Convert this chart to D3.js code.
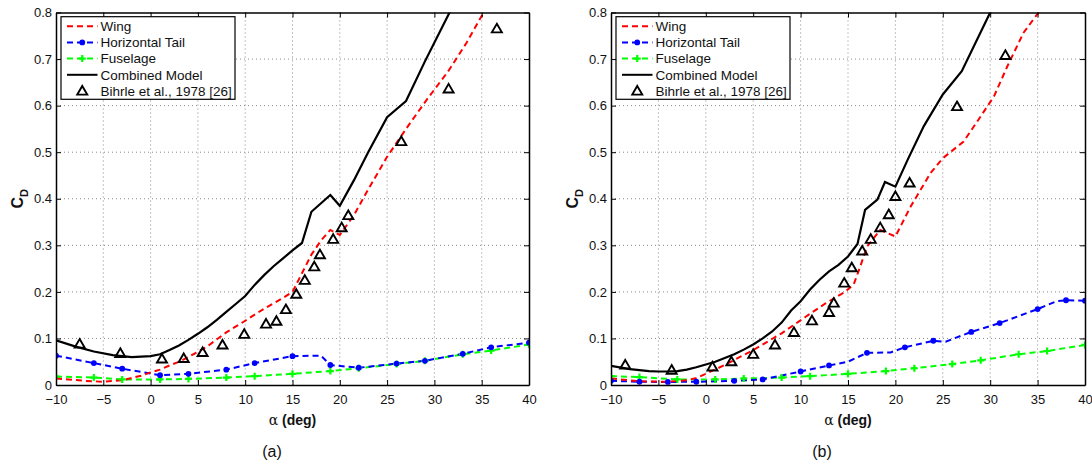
<!DOCTYPE html>
<html><head><meta charset="utf-8">
<script src="https://cdn.jsdelivr.net/npm/d3@7"></script>
<style>body{margin:0;background:#fff} text{font-family:"Liberation Sans",Arial,sans-serif;}</style>
</head><body><svg id="c" width="1092" height="464"></svg>
<script>
const xTicks=[-10,-5,0,5,10,15,20,25,30,35,40];
const yTicks=[0,0.1,0.2,0.3,0.4,0.5,0.6,0.7,0.8];
const legendLabels=["Wing","Horizontal Tail","Fuselage","Combined Model","Bihrle et al., 1978 [26]"];
const captions=["(a)","(b)"];

// Panel (a)
const combinedA=[[-10,0.096],[-8,0.083],[-6,0.072],[-4,0.064],[-2,0.060],[0,0.062],[1,0.066],[2,0.075],[3,0.085],[4,0.097],[5,0.11],[6,0.124],[7,0.14],[8,0.157],[9,0.174],[10,0.191],[11,0.215],[12,0.236],[13,0.255],[14,0.272],[15,0.289],[16,0.305],[17,0.372],[19,0.408],[20,0.385],[21.5,0.44],[23,0.50],[25,0.575],[27,0.61],[29,0.695],[31.6,0.80],[33,0.86]];
const wingA=[[-10,0.014],[-7,0.009],[-5,0.007],[-3,0.010],[-1,0.02],[0,0.027],[1,0.033],[2,0.042],[3,0.05],[4,0.06],[6,0.083],[8,0.113],[10,0.138],[12,0.164],[14,0.187],[15,0.2],[16,0.24],[17,0.28],[18,0.31],[19,0.333],[20,0.322],[21.5,0.365],[23,0.42],[25,0.49],[27,0.55],[29.2,0.613],[31.5,0.675],[33.4,0.735],[35.2,0.8],[36.5,0.84]];
const tailA=[[-10,0.063,1],[-6,0.047,1],[-3,0.035,1],[1,0.021,1],[4,0.024,1],[8,0.033,1],[11,0.047,1],[15,0.062,1],[18,0.063,0],[19,0.043,1],[22,0.037,1],[26,0.046,1],[29,0.052,1],[33,0.067,1],[36,0.081,1],[40,0.091,1]];
const fuselageA=[[-10,0.018],[-6,0.016],[-3,0.012],[1,0.012],[4,0.013],[8,0.016],[11,0.019],[15,0.024],[19,0.030],[22,0.036],[26,0.045],[29,0.052],[33,0.066],[36,0.074],[40,0.087]];
const bihrleA=[[-7.5,0.088],[-3.2,0.068],[1.2,0.056],[3.5,0.057],[5.5,0.07],[7.6,0.086],[9.9,0.109],[12.2,0.131],[13.3,0.137],[14.3,0.162],[15.4,0.195],[16.3,0.225],[17.3,0.254],[17.9,0.28],[19.3,0.313],[20.2,0.338],[20.9,0.364],[26.5,0.523],[31.5,0.636],[36.6,0.765]];

// Panel (b)
const combinedB=[[-10,0.041],[-8,0.034],[-6,0.030],[-5,0.029],[-4,0.029],[-3,0.030],[-2,0.033],[-1,0.038],[0,0.044],[1,0.05],[2,0.058],[3,0.066],[4,0.076],[5,0.087],[6,0.1],[7,0.115],[8,0.134],[9,0.16],[10,0.18],[11,0.205],[12,0.226],[13,0.244],[14,0.258],[15,0.276],[16,0.303],[16.8,0.376],[18.1,0.398],[18.9,0.436],[20,0.426],[21.3,0.484],[23,0.556],[25,0.624],[27,0.674],[30,0.8],[31,0.84]];
const wingB=[[-10,0.014],[-7,0.008],[-4,0.007],[-2,0.01],[-1,0.015],[0,0.024],[2,0.043],[5,0.075],[8,0.111],[10.5,0.146],[12.6,0.175],[14.7,0.2],[15.6,0.216],[16.3,0.255],[17,0.297],[18.4,0.333],[20,0.319],[21.6,0.383],[23.7,0.455],[25,0.487],[27.2,0.523],[29,0.577],[30.4,0.62],[31.8,0.684],[33.5,0.756],[35.1,0.8],[36,0.83]];
const tailB=[[-10,0.009,1],[-7,0.007,1],[-4,0.0065,1],[-1,0.007,1],[3,0.009,1],[6,0.012,1],[10,0.029,1],[13,0.042,1],[15,0.05,0],[17,0.069,1],[19.5,0.07,0],[21,0.081,1],[24,0.095,1],[25.3,0.093,0],[28,0.114,1],[31,0.133,1],[35,0.163,1],[37,0.18,0],[38,0.182,1],[40,0.181,1]];
const fuselageB=[[-10,0.019],[-7,0.017],[-3,0.012],[1,0.012],[4,0.014],[8,0.016],[11,0.019],[15,0.024],[19,0.030],[22,0.036],[26,0.045],[29,0.053],[33,0.066],[36,0.073],[40,0.086]];
const bihrleB=[[-8.5,0.043],[-3.6,0.032],[0.7,0.039],[2.7,0.05],[5.0,0.066],[7.3,0.086],[9.3,0.113],[11.2,0.138],[13.0,0.156],[13.5,0.176],[14.6,0.219],[15.4,0.252],[16.5,0.288],[17.4,0.313],[18.4,0.338],[19.3,0.366],[20.0,0.405],[21.5,0.434],[26.5,0.598],[31.6,0.708]];

const panels=[
 {id:"a",left:56,right:529,caption:captions[0],capX:272,wing:wingA,tail:tailA,fus:fuselageA,comb:combinedA,exp:bihrleA},
 {id:"b",left:611,right:1085,caption:captions[1],capX:822,wing:wingB,tail:tailB,fus:fuselageB,comb:combinedB,exp:bihrleB}
];
const TOP=12.5,BOT=385;
const svg=d3.select("#c");
svg.append("rect").attr("width",1092).attr("height",464).attr("fill","#fff");
const defs=svg.append("defs");
const fmtX=d=>d<0?"\u2212"+(-d):String(d);
const fmtY=d=>d===0?"0":d3.format(".1f")(d);
const RED="#ff0000",BLUE="#0000ff",GREEN="#00ff00";

function triPath(cx,cy){return `M${cx},${cy-5}L${cx+5},${cy+3.6}L${cx-5},${cy+3.6}Z`;}
function plusPath(cx,cy){return `M${cx-3.5},${cy}H${cx+3.5}M${cx},${cy-3.5}V${cy+3.5}`;}

panels.forEach(p=>{
  const x=d3.scaleLinear().domain([-10,40]).range([p.left,p.right]);
  const y=d3.scaleLinear().domain([0,0.8]).range([BOT,TOP]);
  const g=svg.append("g");
  defs.append("clipPath").attr("id","clip"+p.id).append("rect")
    .attr("x",p.left).attr("y",TOP).attr("width",p.right-p.left).attr("height",BOT-TOP);
  // grid
  const grid=g.append("g").attr("stroke","#8a8a8a").attr("stroke-width",1).attr("stroke-dasharray","1,3");
  grid.selectAll(".gx").data(xTicks.slice(1,-1)).join("line")
    .attr("x1",d=>x(d)).attr("x2",d=>x(d)).attr("y1",TOP).attr("y2",BOT);
  grid.selectAll(".gy").data(yTicks.slice(1,-1)).join("line")
    .attr("x1",p.left).attr("x2",p.right).attr("y1",d=>y(d)).attr("y2",d=>y(d));
  const line=d3.line().x(d=>x(d[0])).y(d=>y(d[1]));
  const data=g.append("g").attr("clip-path",`url(#clip${p.id})`);
  data.append("path").attr("d",line(p.fus)).attr("fill","none").attr("stroke",GREEN).attr("stroke-width",2).attr("stroke-dasharray","6,4");
  data.append("path").attr("d",line(p.tail)).attr("fill","none").attr("stroke",BLUE).attr("stroke-width",2).attr("stroke-dasharray","6,4");
  data.append("path").attr("d",line(p.wing)).attr("fill","none").attr("stroke",RED).attr("stroke-width",2).attr("stroke-dasharray","6,4");
  data.append("path").attr("d",line(p.comb)).attr("fill","none").attr("stroke","#000").attr("stroke-width",2.2);
  data.selectAll(".fm").data(p.fus).join("path").attr("d",d=>plusPath(x(d[0]),y(d[1]))).attr("stroke",GREEN).attr("stroke-width",2.2);
  data.selectAll(".tm").data(p.tail.filter(d=>d[2])).join("circle").attr("cx",d=>x(d[0])).attr("cy",d=>y(d[1])).attr("r",2.9).attr("fill",BLUE);
  data.selectAll(".em").data(p.exp).join("path").attr("d",d=>triPath(x(d[0]),y(d[1]))).attr("fill","none").attr("stroke","#000").attr("stroke-width",1.9).attr("stroke-linejoin","miter");
  // axes
  const axB=g.append("g").attr("transform",`translate(0,${BOT})`).call(d3.axisBottom(x).tickValues(xTicks).tickSize(-5).tickSizeOuter(0).tickPadding(10).tickFormat(fmtX));
  const axT=g.append("g").attr("transform",`translate(0,${TOP})`).call(d3.axisTop(x).tickValues(xTicks).tickSize(-5).tickSizeOuter(0).tickFormat(""));
  const axL=g.append("g").attr("transform",`translate(${p.left},0)`).call(d3.axisLeft(y).tickValues(yTicks).tickSize(-5).tickSizeOuter(0).tickPadding(4).tickFormat(fmtY));
  const axR=g.append("g").attr("transform",`translate(${p.right},0)`).call(d3.axisRight(y).tickValues(yTicks).tickSize(-5).tickSizeOuter(0).tickFormat(""));
  [axB,axT,axL,axR].forEach(a=>{
    a.select(".domain").attr("stroke","#000").attr("stroke-width",1.5);
    a.selectAll(".tick line").attr("stroke","#000").attr("stroke-width",1);
    a.selectAll("text").attr("fill","#111").attr("font-size",13).attr("font-family","Liberation Sans, Arial, sans-serif");
  });
  // labels
  const xl=g.append("text").attr("x",(p.left+p.right)/2).attr("y",425).attr("text-anchor","middle").attr("font-size",14).attr("fill","#111");
  xl.append("tspan").attr("font-family","DejaVu Serif, serif").attr("font-size",14).text("\u03B1");
  xl.append("tspan").attr("font-weight","bold").text(" (deg)");
  const cx=p.left-33, cy=(TOP+BOT)/2;
  const yl=g.append("text").attr("transform",`translate(${cx},${cy}) rotate(-90)`).attr("text-anchor","middle").attr("font-weight","bold").attr("font-size",16).attr("fill","#111");
  yl.append("tspan").text("C");
  yl.append("tspan").attr("font-size",11).attr("dy",5).text("D");
  g.append("text").attr("x",p.capX).attr("y",457).attr("text-anchor","middle").attr("font-family","Liberation Serif, serif").attr("font-size",16).attr("fill","#111").text(p.caption);
  // legend
  const lx=p.left+5, ly=16.7;
  const lg=g.append("g");
  lg.append("rect").attr("x",lx).attr("y",ly).attr("width",174).attr("height",82.6).attr("fill","#fff").attr("stroke","#000").attr("stroke-width",1.2);
  const styles=[
    {c:RED,dash:"6,4",m:null},
    {c:BLUE,dash:"6,4",m:"circle"},
    {c:GREEN,dash:"6,4",m:"plus"},
    {c:"#000",dash:null,m:null},
    {c:"#000",dash:null,m:"tri",noline:true}
  ];
  legendLabels.forEach((lab,i)=>{
    const ry=ly+9.5+i*16.2, s=styles[i];
    const x1=lx+6, x2=lx+36.5, mx=(x1+x2)/2;
    if(!s.noline){
      lg.append("line").attr("x1",x1).attr("x2",x2).attr("y1",ry).attr("y2",ry).attr("stroke",s.c).attr("stroke-width",2).attr("stroke-dasharray",s.dash);
    }
    if(s.m==="circle") lg.append("circle").attr("cx",mx).attr("cy",ry).attr("r",2.9).attr("fill",s.c);
    if(s.m==="plus") lg.append("path").attr("d",plusPath(mx,ry)).attr("stroke",s.c).attr("stroke-width",2.2);
    if(s.m==="tri") lg.append("path").attr("d",triPath(mx,ry)).attr("fill","none").attr("stroke","#000").attr("stroke-width",1.9);
    lg.append("text").attr("x",lx+39.5).attr("y",ry).attr("dy","0.35em").attr("font-size",13.5).attr("fill","#111").text(lab);
  });
});
</script></body></html>
